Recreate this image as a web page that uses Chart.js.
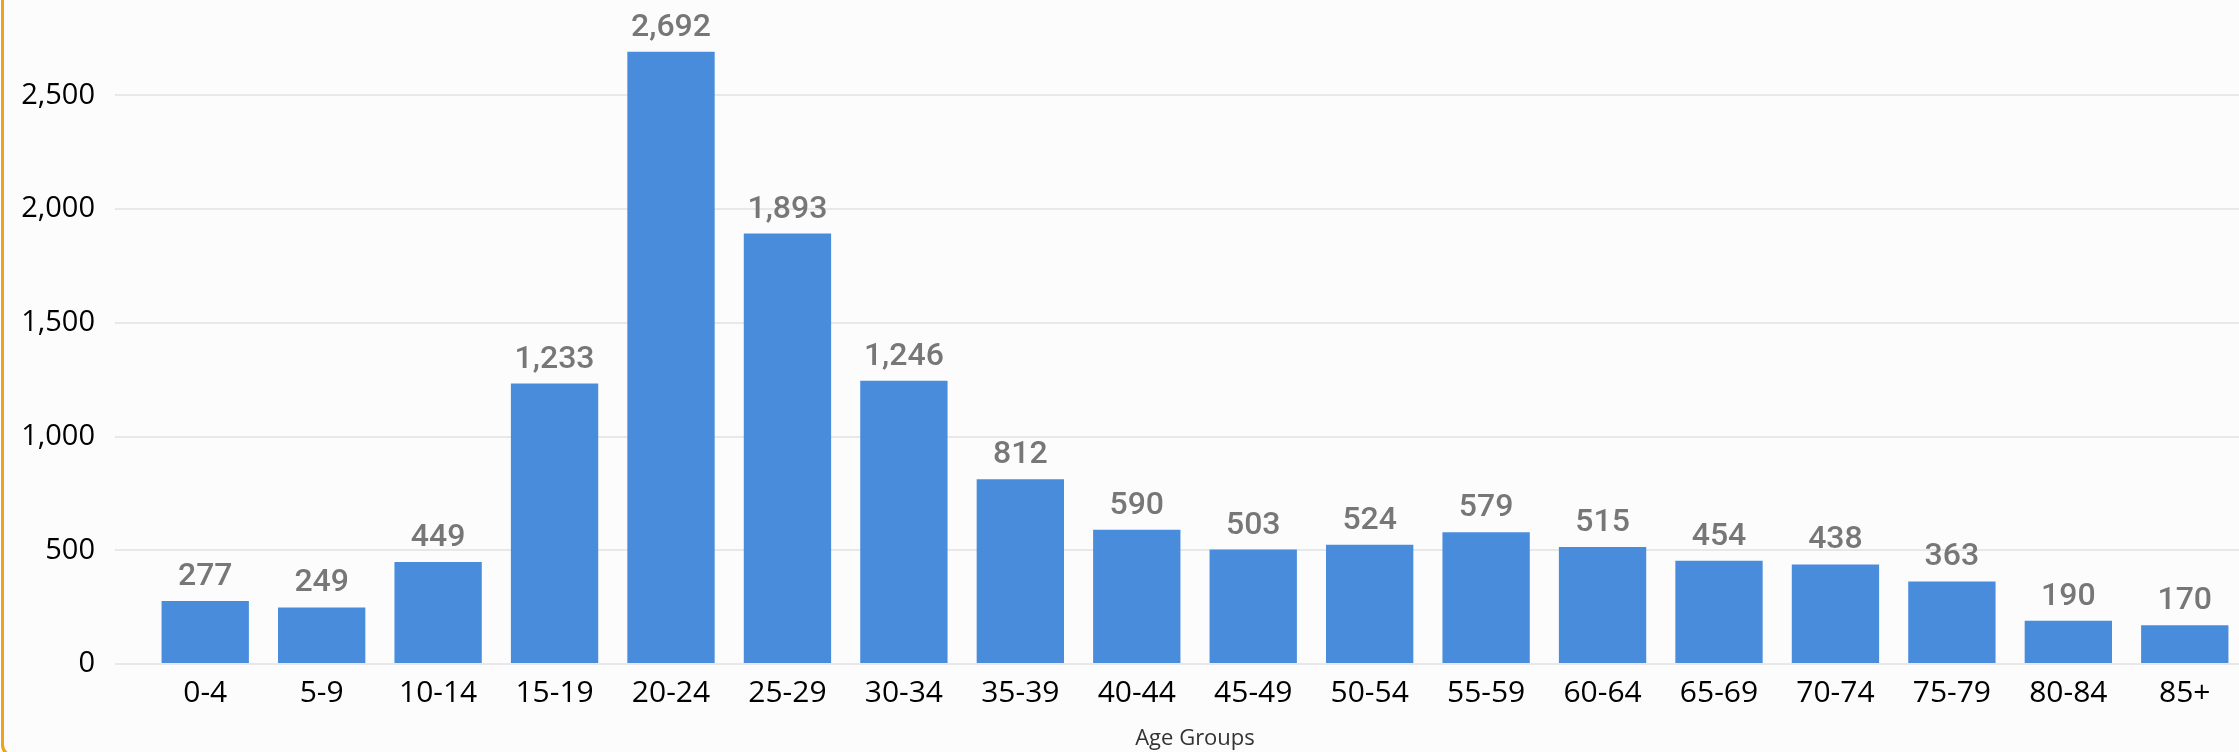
<!DOCTYPE html>
<html>
<head>
<meta charset="utf-8">
<script src="https://cdn.jsdelivr.net/npm/chart.js@4.4.0/dist/chart.umd.min.js"></script>
<style>
html,body{margin:0;padding:0;overflow:hidden;background:#fcfcfc;}
#frame{position:absolute;left:1px;top:-20px;width:2300px;height:777px;border:3px solid #e9a31c;border-radius:12px;box-sizing:border-box;}
#wrap{position:absolute;left:0;top:0;width:2243px;height:752px;}
</style>
</head>
<body>
<div id="frame"></div>
<div id="wrap"><canvas id="chart"></canvas></div>
<script>
const ageGroups=["0-4","5-9","10-14","15-19","20-24","25-29","30-34","35-39","40-44","45-49","50-54","55-59","60-64","65-69","70-74","75-79","80-84","85+"];
const counts=[277,249,449,1233,2692,1893,1246,812,590,503,524,579,515,454,438,363,190,170];
const yTicks=[0,500,1000,1500,2000,2500];

// labels above each bar, like the data labels in the original
const barLabels={
    id:"barLabels",
    afterDatasetsDraw(chart){
        let ctx=chart.ctx;
        let meta=chart.getDatasetMeta(0);
        ctx.save();
        ctx.font="500 32px Roboto";
        ctx.fillStyle="#777777";
        ctx.textAlign="center";
        ctx.textBaseline="alphabetic";
        meta.data.forEach(function(bar,i){
            ctx.fillText(counts[i].toLocaleString("en-US"),bar.x,bar.y-16);
        });
        ctx.restore();
    }
};

let ctx=document.getElementById("chart");
let chart=new Chart(ctx,{
    type:"bar",
    data:{
        labels:ageGroups,
        datasets:[{
            data:counts,
            backgroundColor:"#4a8cdc",
            barPercentage:0.75,
            categoryPercentage:1.0
        }]
    },
    options:{
        responsive:true,
        maintainAspectRatio:false,
        animation:false,
        layout:{padding:{top:20,left:0,right:0,bottom:0}},
        plugins:{legend:{display:false},tooltip:{enabled:false}},
        scales:{
            x:{
                grid:{display:false,drawTicks:false},
                border:{display:false},
                ticks:{color:"#000",font:{family:"Open Sans",size:30},padding:11,maxRotation:0,autoSkip:false},
                title:{display:true,text:"Age Groups",color:"#333",font:{family:"Open Sans",size:22},padding:{top:10,bottom:0}},
                afterFit:function(s){s.height=88;}
            },
            y:{
                min:0,
                max:2832,
                grid:{color:"#e8e8e8",lineWidth:2,tickLength:32,drawTicks:true},
                border:{display:false},
                ticks:{color:"#000",font:{family:"Open Sans",size:29},padding:20,
                    callback:function(v){return v.toLocaleString("en-US");}},
                afterBuildTicks:function(s){s.ticks=yTicks.map(function(v){return {value:v};});},
                afterFit:function(s){s.width=147;s.paddingTop=0;s.paddingBottom=0;}
            }
        }
    },
    plugins:[barLabels]
});
</script>
</body>
</html>
